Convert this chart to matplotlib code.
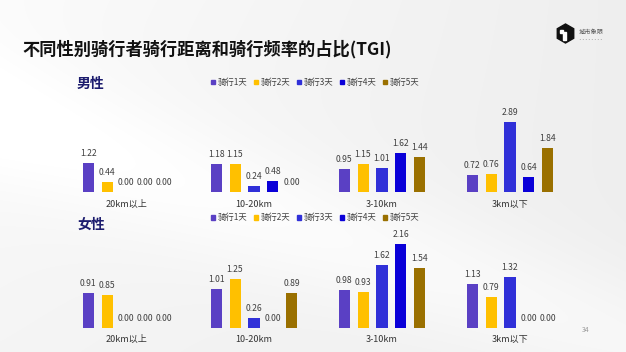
import numpy as np
import matplotlib
matplotlib.use("Agg")
import matplotlib.pyplot as plt
from matplotlib.patches import RegularPolygon, Rectangle

plt.rcParams['font.family'] = ['Noto Sans CJK SC', 'DejaVu Sans']

# ---- data ----
categories = ["20km以上", "10-20km", "3-10km", "3km以下"]
series_names = ["骑行1天", "骑行2天", "骑行3天", "骑行4天", "骑行5天"]
colors = ["#5a40c4", "#ffc000", "#3030d8", "#0a00d8", "#9a7000"]

male_day1 = [1.22, 1.18, 0.95, 0.72]
male_day2 = [0.44, 1.15, 1.15, 0.76]
male_day3 = [0.00, 0.24, 1.01, 2.89]
male_day4 = [0.00, 0.48, 1.62, 0.64]
male_day5 = [0.00, 0.00, 1.44, 1.84]

female_day1 = [0.91, 1.01, 0.98, 1.13]
female_day2 = [0.85, 1.25, 0.93, 0.79]
female_day3 = [0.00, 0.26, 1.62, 1.32]
female_day4 = [0.00, 0.00, 2.16, 0.00]
female_day5 = [0.00, 0.89, 1.54, 0.00]

male = [male_day1, male_day2, male_day3, male_day4, male_day5]
female = [female_day1, female_day2, female_day3, female_day4, female_day5]

W, H = 626, 352
fig = plt.figure(figsize=(W / 100, H / 100), dpi=100)


def fx(x):
    return x / W


def fy(y):
    return 1 - y / H


# soft light background
bg = fig.add_axes([0, 0, 1, 1], zorder=-10)
yy, xx = np.mgrid[0:H, 0:W]
base = 0.935 + 0.05 * (1 - xx / W) * (1 - 0.5 * yy / H)
band = 0.035 * np.exp(-((yy - 0.35 * xx - 120) / 70.0) ** 2)
img = np.clip(base + band, 0, 1)
bg.imshow(np.dstack([img, img, img]), extent=[0, W, H, 0], aspect='auto')
bg.set_axis_off()

# title
fig.text(fx(22), fy(49), "不同性别骑行者骑行距离和骑行频率的占比(TGI)",
         fontsize=12.4, fontweight='bold', color='#111111', va='center', ha='left')

# logo, legends and page number drawn in pixel coordinates
logo = fig.add_axes([0, 0, 1, 1], zorder=5)
logo.set_xlim(0, W)
logo.set_ylim(H, 0)
logo.set_axis_off()
logo.patch.set_alpha(0)
logo.add_patch(RegularPolygon((565.5, 33.5), numVertices=6, radius=9.5,
                              orientation=0, color='#111111'))
logo.add_patch(Rectangle((563, 32), 3, 8, color='white'))
logo.add_patch(Rectangle((560, 30), 3, 3, color='white'))
logo.text(579, 32, "城市象限", fontsize=4.5, color='#555555', va='center', ha='left')
logo.text(579, 38.5, "▪ ▪ ▪ ▪ ▪ ▪ ▪ ▪", fontsize=1.8, color='#777777', va='center', ha='left')
logo.text(586, 330, "34", fontsize=5, color='#9a9a9a', va='center', ha='center')

# section headings
fig.text(fx(77), fy(84), "男性", fontsize=10, fontweight='bold', color='#1c1c6e', va='center')
fig.text(fx(77), fy(225), "女性", fontsize=10, fontweight='bold', color='#1c1c6e', va='center')


def legend(y):
    for i, (name, c) in enumerate(zip(series_names, colors)):
        x = 212.7 + 43 * i
        logo.add_patch(Rectangle((x - 2.2, y - 2.2), 4.4, 4.4, color=c))
        logo.text(x + 5, y, name, fontsize=6, color='#404040', va='center', ha='left')


legend(82)
legend(217.5)

offsets = (np.arange(5) - 2) * 0.148
bar_w = 0.086
xs = np.arange(len(categories))


def panel(data, baseline_px, ymax, px_per_unit):
    h = ymax * px_per_unit
    ax = fig.add_axes([fx(62), fy(baseline_px), fx(512), h / H])
    ax.set_xlim(-0.5, len(categories) - 0.5)
    ax.set_ylim(0, ymax)
    ax.set_axis_off()
    ax.patch.set_alpha(0)
    for vals, off, c in zip(data, offsets, colors):
        bars = ax.bar(xs + off, vals, width=bar_w, color=c, edgecolor='none')
        for b, v in zip(bars, vals):
            ax.annotate(f"{v:.2f}", (b.get_x() + b.get_width() / 2, v),
                        xytext=(0, 5), textcoords='offset pixels',
                        ha='center', va='bottom', fontsize=6.2, color='#404040',
                        annotation_clip=False)
    for x, cat in zip(xs, categories):
        ax.annotate(cat, (x, 0), xytext=(0, -12), textcoords='offset pixels',
                    ha='center', va='center', fontsize=6.5, color='#333333',
                    annotation_clip=False)
    return ax


panel(male, 192.3, 3.2, 24.2)
panel(female, 327.7, 2.4, 38.6)

fig.savefig("out.png", dpi=100)
